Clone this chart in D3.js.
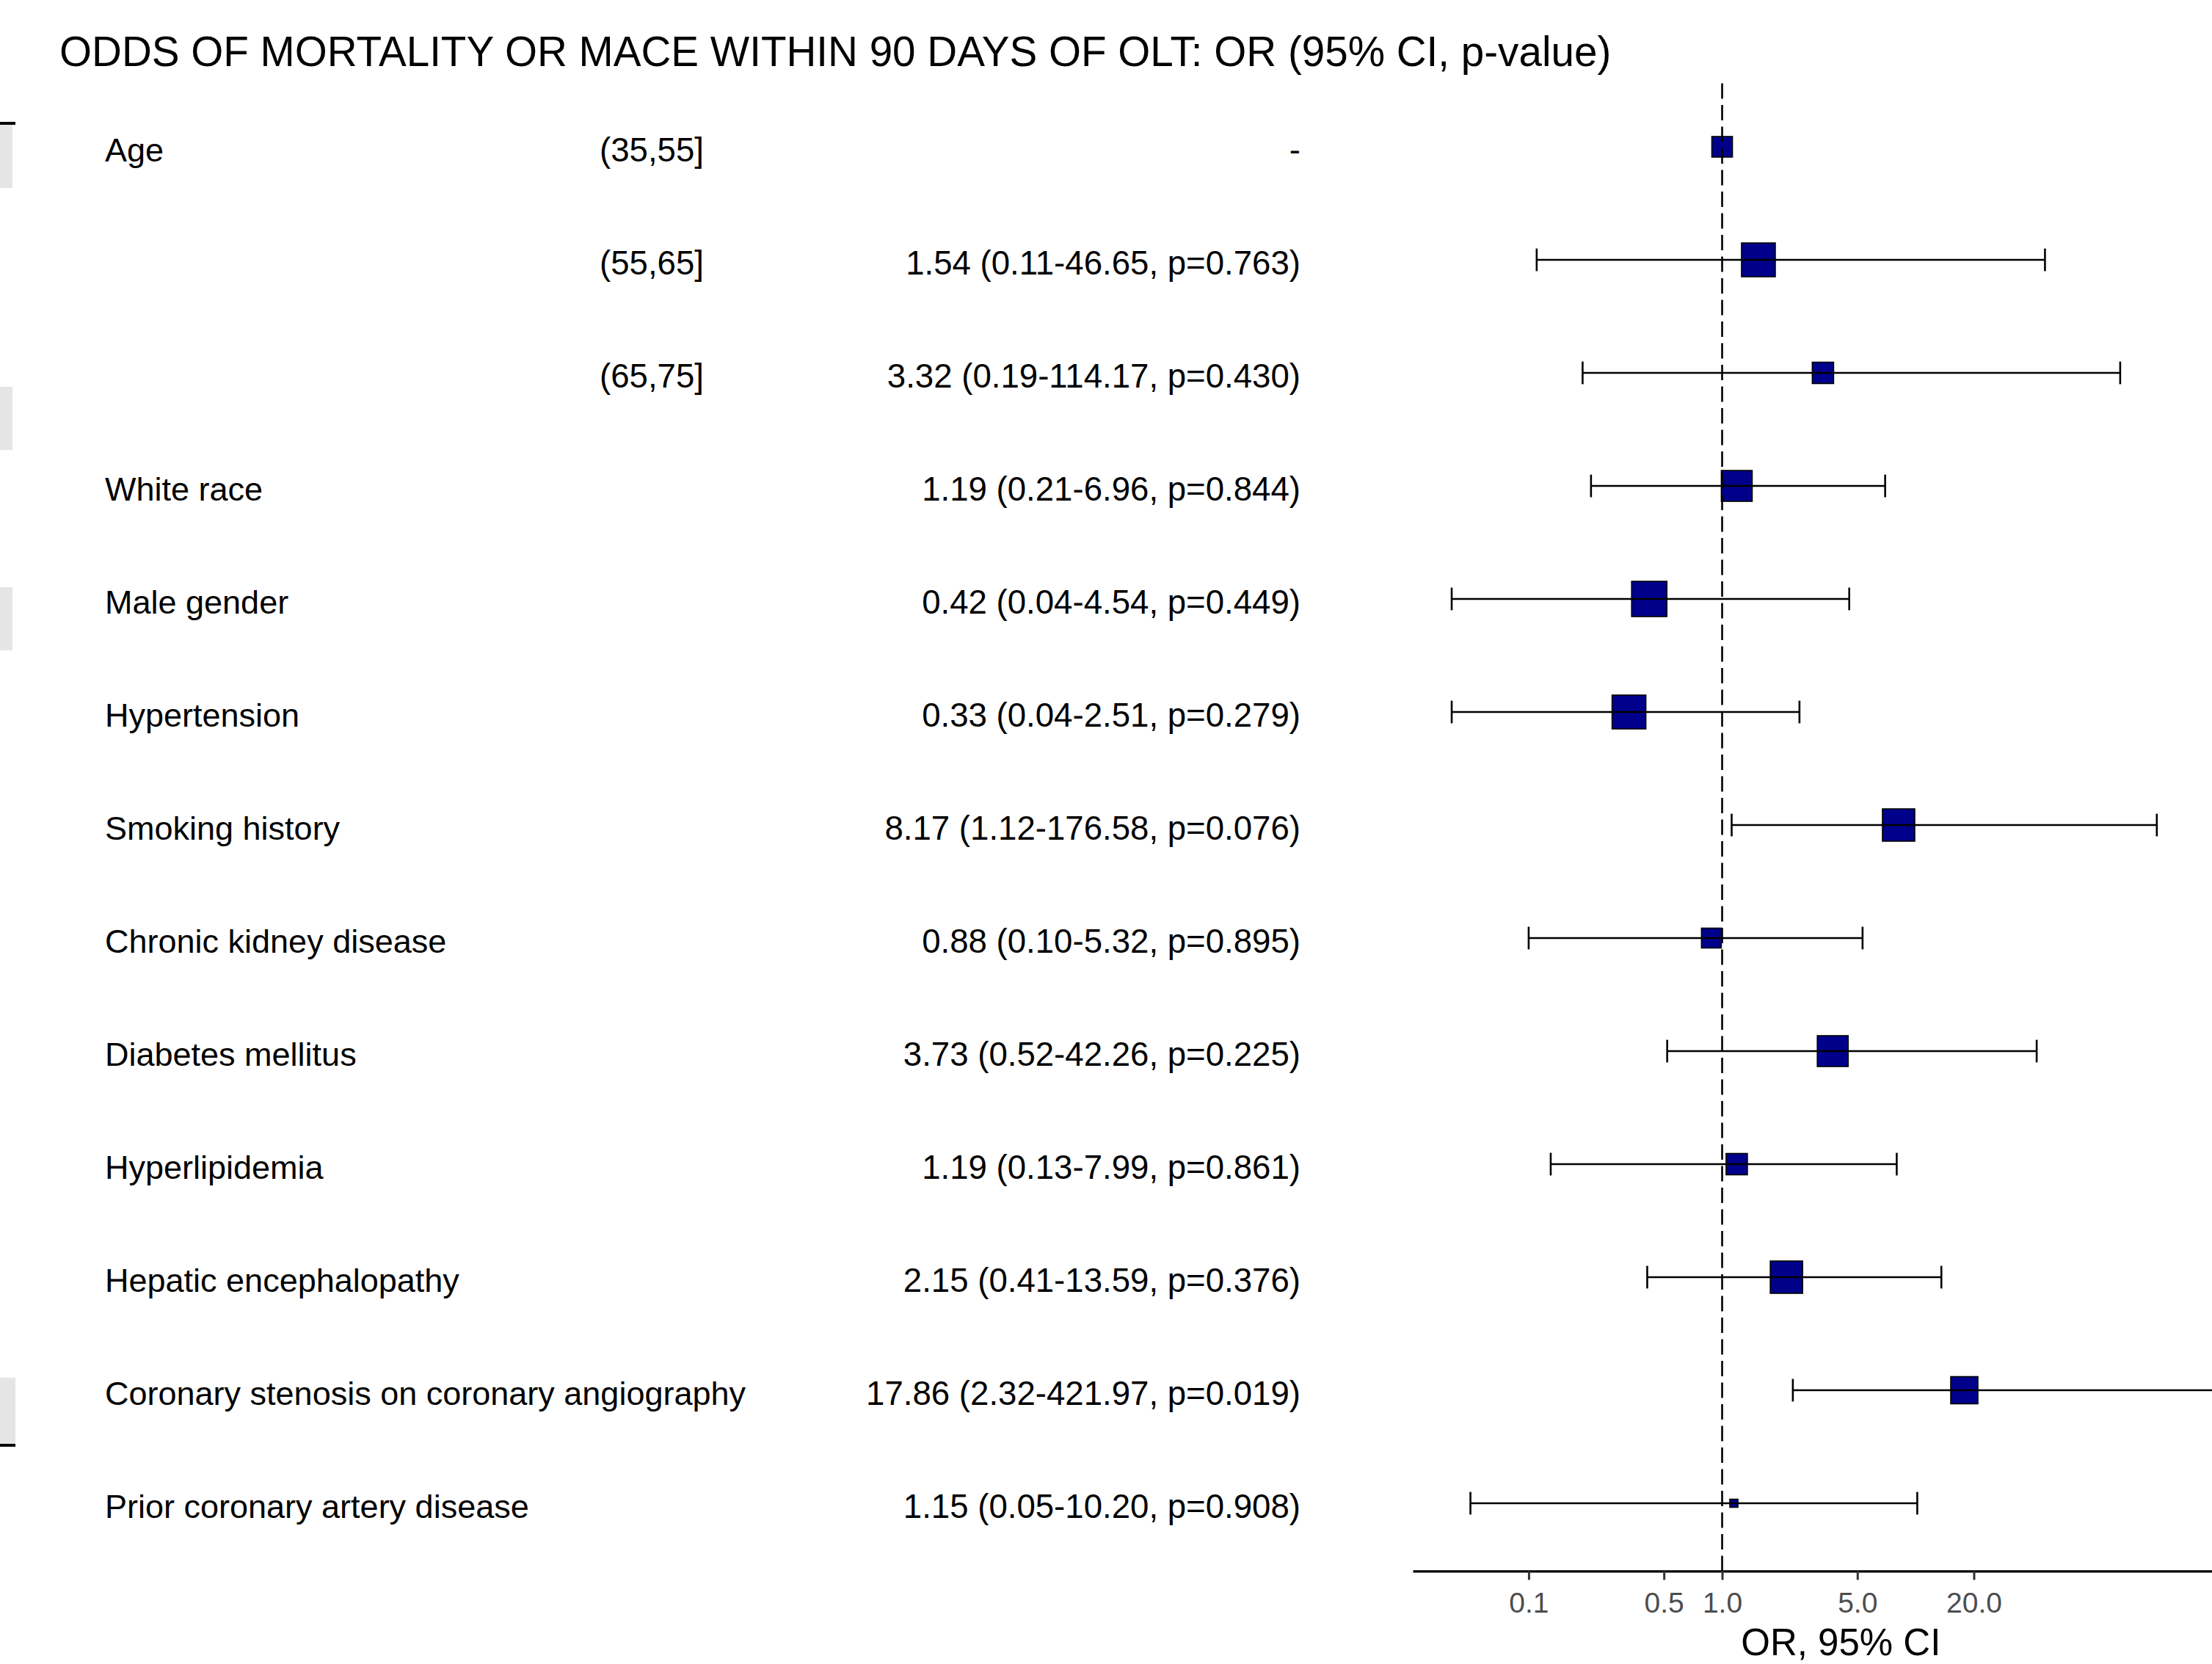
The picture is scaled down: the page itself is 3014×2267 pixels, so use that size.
<!DOCTYPE html>
<html><head><meta charset="utf-8">
<script src="https://cdn.jsdelivr.net/npm/d3@7"></script>
<style>body{margin:0;background:#fff}svg{display:block}</style>
</head><body><svg id="c" width="3014" height="2267"></svg>
<script>
// ---- data ----
const chartTitle = "ODDS OF MORTALITY OR MACE WITHIN 90 DAYS OF OLT: OR (95% CI, p-value)";
const variables = ["Age", "", "", "White race", "Male gender", "Hypertension", "Smoking history",
  "Chronic kidney disease", "Diabetes mellitus", "Hyperlipidemia", "Hepatic encephalopathy",
  "Coronary stenosis on coronary angiography", "Prior coronary artery disease"];
const levels = ["(35,55]", "(55,65]", "(65,75]", "", "", "", "", "", "", "", "", "", ""];
const orValues = [1, 1.54, 3.32, 1.19, 0.42, 0.33, 8.17, 0.88, 3.73, 1.19, 2.15, 17.86, 1.15];
const ciLower = [null, 0.11, 0.19, 0.21, 0.04, 0.04, 1.12, 0.10, 0.52, 0.13, 0.41, 2.32, 0.05];
const ciUpper = [null, 46.65, 114.17, 6.96, 4.54, 2.51, 176.58, 5.32, 42.26, 7.99, 13.59, 421.97, 10.20];
const pValues = [null, "0.763", "0.430", "0.844", "0.449", "0.279", "0.076", "0.895", "0.225", "0.861", "0.376", "0.019", "0.908"];
const boxWeights = [784, 2116, 841, 1764, 2304, 2116, 1936, 729, 1764, 841, 1936, 1369, 121];
const tickValues = [0.1, 0.5, 1, 5, 20];
const tickLabels = ["0.1", "0.5", "1.0", "5.0", "20.0"];
const xAxisTitle = "OR, 95% CI";

// ---- layout ----
const W = 3014, H = 2267;
const FONT = "'Liberation Sans', Arial, Helvetica, sans-serif";
const panelLeft = 1925, decadePx = 263.6;
const firstRowY = 200, rowStep = 154;
const svg = d3.select("#c");
svg.append("rect").attr("width", W).attr("height", H).attr("fill", "#fff");

const rows = variables.map((v, i) => ({
  i, variable: v, level: levels[i], or: orValues[i], lo: ciLower[i], hi: ciUpper[i], p: pValues[i], w: boxWeights[i]
}));

// x scale: log, ggplot-style 5% expansion of the data range
const allVals = rows.flatMap(d => [d.or, d.lo, d.hi]).filter(v => v != null);
const lmin = Math.log10(d3.min(allVals)), lmax = Math.log10(d3.max(allVals));
const pad = (lmax - lmin) * 0.05;
const dom = [Math.pow(10, lmin - pad), Math.pow(10, lmax + pad)];
const x = d3.scaleLog().domain(dom).range([panelLeft, panelLeft + (lmax - lmin + 2 * pad) * decadePx]);

const y = d3.scalePoint().domain(d3.range(rows.length))
  .range([firstRowY, firstRowY + rowStep * (rows.length - 1)]);
const panelTop = y(0) - 0.6 * rowStep, panelBottom = y(rows.length - 1) + 0.6 * rowStep;

const side = d3.scaleSqrt().domain([0, d3.max(boxWeights)]).range([0, 48]);

// crop artifacts at the left edge (remnant of adjacent table)
const artifacts = [
  {x: 0, y: 170, w: 17, h: 86, fill: "#e5e5e5"},
  {x: 0, y: 527, w: 17, h: 86, fill: "#e5e5e5"},
  {x: 0, y: 800, w: 17, h: 86, fill: "#e5e5e5"},
  {x: 0, y: 1877, w: 21, h: 90, fill: "#e5e5e5"},
  {x: 0, y: 166, w: 21, h: 4, fill: "#000"},
  {x: 0, y: 1967, w: 21, h: 4, fill: "#000"}
];
svg.append("g").selectAll("rect").data(artifacts).join("rect")
  .attr("x", d => d.x).attr("y", d => d.y).attr("width", d => d.w).attr("height", d => d.h).attr("fill", d => d.fill);

// title
svg.append("text").attr("x", 81).attr("y", 90).attr("font-family", FONT).attr("font-size", 56.6)
  .attr("fill", "#000").text(chartTitle);

// table text
const tg = svg.append("g").attr("font-family", FONT).attr("fill", "#000");
const ty = d => y(d.i) + 19.5;
tg.selectAll("text.var").data(rows).join("text").attr("class", "var")
  .attr("x", 143).attr("y", ty).attr("font-size", 45).text(d => d.variable);
tg.selectAll("text.lev").data(rows).join("text").attr("class", "lev")
  .attr("x", 817).attr("y", ty).attr("font-size", 45.6).text(d => d.level);
tg.selectAll("text.or").data(rows).join("text").attr("class", "or")
  .attr("x", 1772).attr("y", ty).attr("font-size", 45.6).attr("text-anchor", "end")
  .text(d => d.lo == null ? "-" : `${d.or.toFixed(2)} (${d.lo.toFixed(2)}-${d.hi.toFixed(2)}, p=${d.p})`);

// boxes
svg.append("g").selectAll("rect").data(rows).join("rect")
  .attr("x", d => x(d.or) - side(d.w) / 2).attr("y", d => y(d.i) - side(d.w) / 2)
  .attr("width", d => side(d.w)).attr("height", d => side(d.w))
  .attr("fill", "#00008B").attr("stroke", "#000").attr("stroke-width", 1.6);

// error bars
const ci = rows.filter(d => d.lo != null);
const eg = svg.append("g").attr("stroke", "#000").attr("stroke-width", 2.6).attr("fill", "none");
eg.selectAll("line.h").data(ci).join("line").attr("class", "h")
  .attr("x1", d => x(d.lo)).attr("x2", d => x(d.hi)).attr("y1", d => y(d.i)).attr("y2", d => y(d.i));
const capH = 0.2 * rowStep;
eg.selectAll("line.l").data(ci).join("line").attr("class", "l")
  .attr("x1", d => x(d.lo)).attr("x2", d => x(d.lo)).attr("y1", d => y(d.i) - capH / 2).attr("y2", d => y(d.i) + capH / 2);
eg.selectAll("line.r").data(ci).join("line").attr("class", "r")
  .attr("x1", d => x(d.hi)).attr("x2", d => x(d.hi)).attr("y1", d => y(d.i) - capH / 2).attr("y2", d => y(d.i) + capH / 2);

// reference line at OR = 1
svg.append("line").attr("x1", x(1)).attr("x2", x(1)).attr("y1", panelBottom).attr("y2", panelTop)
  .attr("stroke", "#000").attr("stroke-width", 2.6).attr("stroke-dasharray", "21,8.5");

// x axis
const ax = svg.append("g").attr("transform", `translate(0,${panelBottom})`)
  .call(d3.axisBottom(x).tickValues(tickValues).tickFormat((d, i) => tickLabels[i])
    .tickSize(12).tickSizeOuter(0).tickPadding(17));
ax.select(".domain").attr("stroke", "#000").attr("stroke-width", 3.3);
ax.selectAll(".tick line").attr("stroke", "#333").attr("stroke-width", 3);
ax.selectAll(".tick text").attr("font-family", FONT).attr("font-size", 39).attr("fill", "#4d4d4d");

svg.append("text").attr("x", (x.range()[0] + x.range()[1]) / 2).attr("y", 2255)
  .attr("text-anchor", "middle").attr("font-family", FONT).attr("font-size", 51).attr("fill", "#000")
  .text(xAxisTitle);
</script></body></html>
